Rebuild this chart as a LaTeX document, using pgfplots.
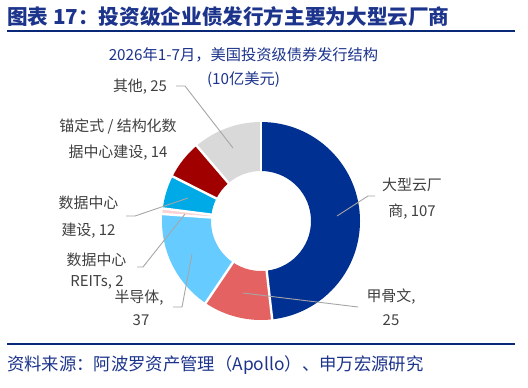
\documentclass[border=0pt]{standalone}
\usepackage{pgfplots}
\pgfplotsset{compat=1.18}
\usepackage{pgfplotstable}
\usepackage{fontspec}
\setmainfont{Noto Sans CJK SC}
\definecolor{navy}{RGB}{28,52,140}
\definecolor{rulenavy}{RGB}{10,40,120}
\definecolor{txt}{RGB}{64,64,64}
\definecolor{lead}{RGB}{166,166,166}
\definecolor{pie0}{RGB}{0,48,145}
\definecolor{pie1}{RGB}{228,98,98}
\definecolor{pie2}{RGB}{102,204,255}
\definecolor{pie3}{RGB}{250,210,210}
\definecolor{pie4}{RGB}{0,170,230}
\definecolor{pie5}{RGB}{160,0,0}
\definecolor{pie6}{RGB}{217,217,217}

% 2026 Jan-Jul US IG bond issuance (USD bn)
\pgfplotstableread[col sep=comma]{
idx,value
0,107
1,25
2,37
3,2
4,12
5,14
6,25
}\pietable

\pgfplotstablegetrowsof{\pietable}
\pgfmathtruncatemacro\nrows{\pgfplotsretval-1}
\def\tot{0}
\pgfplotsforeachungrouped \i in {0,...,\nrows}{%
  \pgfplotstablegetelem{\i}{value}\of\pietable
  \pgfmathsetmacro\tot{\tot+\pgfplotsretval}%
}
\def\cum{0}
\pgfplotsforeachungrouped \i in {0,...,\nrows}{%
  \pgfplotstablegetelem{\i}{value}\of\pietable
  \pgfmathsetmacro\sa{90-(\cum/\tot)*360}%
  \pgfmathsetmacro\cum{\cum+\pgfplotsretval}%
  \pgfmathsetmacro\ea{90-(\cum/\tot)*360}%
  \expandafter\xdef\csname pieS\i\endcsname{\sa}%
  \expandafter\xdef\csname pieE\i\endcsname{\ea}%
}
\newcommand\pS[1]{\csname pieS#1\endcsname}
\newcommand\pE[1]{\csname pieE#1\endcsname}
\def\cx{261}
\def\cy{166}
\def\ro{99}
\def\ri{50}

\begin{document}
\begin{tikzpicture}
\begin{axis}[hide axis, x=1bp, y=1bp, xmin=0, xmax=528, ymin=0, ymax=387,
  clip=false, anchor=origin, at={(0,0)}]
\path[fill=white] (axis cs:0,0) rectangle (axis cs:528,387);
% donut wedges
\pgfplotsinvokeforeach{0,...,6}{
  \fill[pie#1] (axis cs:{\cx+\ro*cos(\pS{#1})},{\cy+\ro*sin(\pS{#1})})
    arc[start angle=\pS{#1}, end angle=\pE{#1}, radius=\ro bp]
    -- (axis cs:{\cx+\ri*cos(\pE{#1})},{\cy+\ri*sin(\pE{#1})})
    arc[start angle=\pE{#1}, end angle=\pS{#1}, radius=\ri bp] -- cycle;
}
\pgfplotsinvokeforeach{0,...,6}{
  \draw[white, line width=2.4bp] (axis cs:{\cx+(\ri-2)*cos(\pS{#1})},{\cy+(\ri-2)*sin(\pS{#1})})
    -- (axis cs:{\cx+(\ro+2)*cos(\pS{#1})},{\cy+(\ro+2)*sin(\pS{#1})});
}
% title and rules
\node[anchor=west, inner sep=0, text=navy, font=\fontsize{20.7}{24}\selectfont\bfseries] at (axis cs:7,370) {图表 17：投资级企业债发行方主要为大型云厂商};
\draw[rulenavy, line width=2.2bp] (axis cs:7,356) -- (axis cs:515,356);
\draw[rulenavy, line width=2.2bp] (axis cs:7,43) -- (axis cs:515,43);
\node[anchor=west, inner sep=0, text=navy, font=\fontsize{17.4}{20}\selectfont] at (axis cs:7,22) {资料来源：阿波罗资产管理（Apollo）、申万宏源研究};
% subtitle
\node[inner sep=0, text=navy, font=\fontsize{15.3}{18}\selectfont] at (axis cs:243.5,332) {2026年1-7月，美国投资级债券发行结构};
\node[inner sep=0, text=navy, font=\fontsize{15.3}{18}\selectfont] at (axis cs:243.5,307) {(10亿美元)};
% leader lines
\draw[lead, line width=0.9bp] (axis cs:176,301) -- (axis cs:185,301) -- (axis cs:233,239);
\draw[lead, line width=0.9bp] (axis cs:337,171) -- (axis cs:368,191) -- (axis cs:375,191);
\draw[lead, line width=0.9bp] (axis cs:126,171) -- (axis cs:135,171) -- (axis cs:188,189);
\draw[lead, line width=0.9bp] (axis cs:137,120) -- (axis cs:143,120) -- (axis cs:185,173);
\draw[lead, line width=0.9bp] (axis cs:173,80) -- (axis cs:182,80) -- (axis cs:192,133);
\draw[lead, line width=0.9bp] (axis cs:243,94) -- (axis cs:358,80);
% labels
\begin{scope}[every node/.style={inner sep=0, text=txt, font=\fontsize{15}{18}\selectfont}]
\node at (axis cs:140,300) {其他, 25};
\node at (axis cs:118,260) {锚定式 / 结构化数};
\node at (axis cs:118,234) {据中心建设, 14};
\node at (axis cs:88.5,184) {数据中心};
\node at (axis cs:88.5,156) {建设, 12};
\node at (axis cs:96.5,127) {数据中心};
\node at (axis cs:97,105) {REITs, 2};
\node at (axis cs:139,89) {半导体,};
\node at (axis cs:141,67) {37};
\node at (axis cs:391,90) {甲骨文,};
\node at (axis cs:391,67) {25};
\node at (axis cs:412,202) {大型云厂};
\node at (axis cs:412,175) {商, 107};
\end{scope}
\end{axis}
\end{tikzpicture}
\end{document}
